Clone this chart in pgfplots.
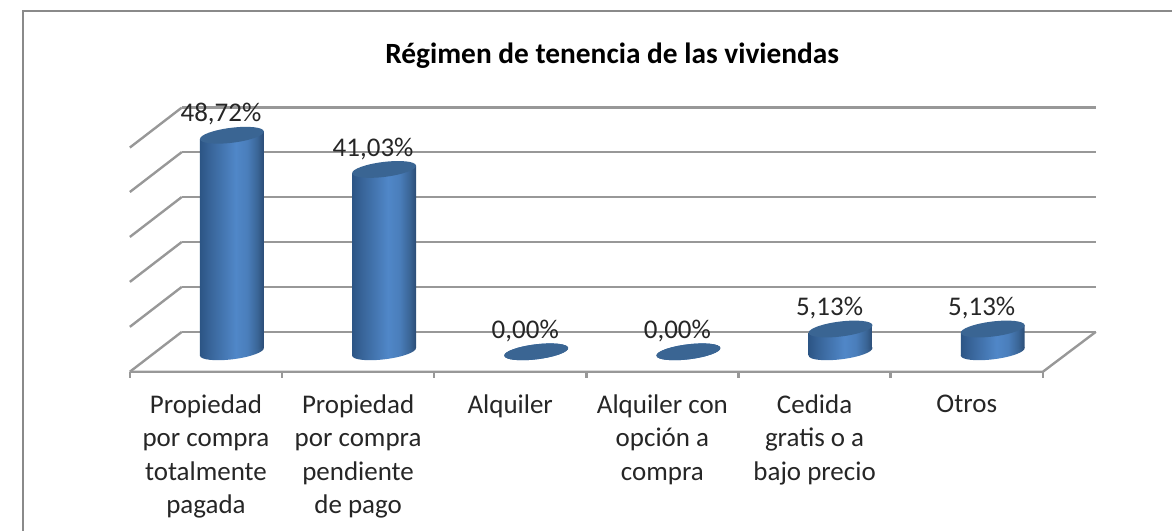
\documentclass[border=0pt]{standalone}
\usepackage{pgfplots}
\pgfplotsset{compat=1.18}
\usepackage{fontspec}
\setmainfont{Carlito}
\definecolor{gridc}{HTML}{989898}
\definecolor{framec}{HTML}{8A8A8A}
\definecolor{topc}{HTML}{3A6593}
\definecolor{txt}{HTML}{262626}
\definecolor{cE}{HTML}{2C5585}
\definecolor{cF}{HTML}{376397}
\definecolor{cM}{HTML}{5087C8}
\definecolor{cN}{HTML}{4A7EBB}
\definecolor{cQ}{HTML}{3A6596}
\definecolor{cR}{HTML}{2B4C75}
\pgfdeclarehorizontalshading{cylshade}{100bp}{
  color(0bp)=(cE);
  color(25bp)=(cE);
  color(32bp)=(cF);
  color(53bp)=(cM);
  color(62bp)=(cN);
  color(70bp)=(cQ);
  color(75bp)=(cR);
  color(100bp)=(cR)
}
% one cylinder, drawn at its data point; its height follows the value
\pgfdeclareplotmark{cyl}{%
  \begingroup
  \pgfmathsetmacro\hh{\val*4.45}%
  \begin{scope}[x=0.5pt,y=0.5pt]
    \shade[shading=cylshade, draw=none]
      (26,-\hh) ellipse [x radius=32.2, y radius=7.5, rotate=7];
    \shade[shading=cylshade, draw=none]
      (-6,{-\hh-3.9}) -- (58,{-\hh+3.9}) -- (58,3.9) -- (-6,-3.9) -- cycle;
    \fill[topc, draw=none] (26,0) ellipse [x radius=32.2, y radius=7.5, rotate=7];
  \end{scope}
  \endgroup
}
\begin{document}
\begin{tikzpicture}
\begin{axis}[
  scale only axis,
  width=586.5pt, height=265.5pt,
  xmin=-1.3534, xmax=6.3469,
  ymin=-40.22, ymax=79.10,
  clip=false,
  axis line style={draw=none},
  major tick length=0pt,
  ytick=\empty,
  xtick={0,1,2,3,4,5},
  xticklabels={
    Propiedad\\por compra\\totalmente\\pagada,
    Propiedad\\por compra\\pendiente\\de pago,
    Alquiler,
    Alquiler con\\opción a\\compra,
    Cedida\\gratis o a\\bajo precio,
    Otros},
  x tick label style={
    font=\fontsize{13.5pt}{16.7pt}\selectfont, text=txt,
    align=center, anchor=north, yshift=68.3pt, inner sep=0pt},
  title={\textbf{Régimen de tenencia de las viviendas}},
  title style={
    at={(rel axis cs:0.5225,1)}, anchor=center, yshift=-34pt,
    font=\fontsize{14.7pt}{17pt}\selectfont, text=black},
  unbounded coords=jump,
]
% frame
\addplot[framec, line width=1.3pt] coordinates {(-1.2025,-40.22) (-1.2025,76.63) (6.3469,76.63)};
% back wall
\addplot[gridc, line width=1.2pt] coordinates {(-0.1586,4.49) (5.848,4.49)};
\addplot[gridc, line width=1.2pt] coordinates {(-0.1586,14.61) (5.848,14.61)};
\addplot[gridc, line width=1.2pt] coordinates {(-0.1586,24.72) (5.848,24.72)};
\addplot[gridc, line width=1.2pt] coordinates {(-0.1586,34.83) (5.848,34.83)};
\addplot[gridc, line width=1.2pt] coordinates {(-0.1586,44.94) (5.848,44.94)};
\addplot[gridc, line width=1.2pt] coordinates {(-0.1586,54.94) (5.848,54.94)};
% side wall
\addplot[gridc, line width=1.2pt] coordinates {(-0.5,-4.49) (-0.1586,4.49)};
\addplot[gridc, line width=1.2pt] coordinates {(-0.5,5.62) (-0.1586,14.61)};
\addplot[gridc, line width=1.2pt] coordinates {(-0.5,15.73) (-0.1586,24.72)};
\addplot[gridc, line width=1.2pt] coordinates {(-0.5,25.84) (-0.1586,34.83)};
\addplot[gridc, line width=1.2pt] coordinates {(-0.5,35.95) (-0.1586,44.94)};
\addplot[gridc, line width=1.2pt] coordinates {(-0.5,45.95) (-0.1586,54.94)};
% floor and ticks
\addplot[gridc, line width=1.2pt] coordinates {(-0.5,-4.49) (5.5,-4.49) (5.848,4.49)};
\addplot[gridc, line width=1.2pt] coordinates {
 (-0.5,-4.49) (-0.5,-5.9) (nan,nan)
 (0.5,-4.49) (0.5,-5.9) (nan,nan)
 (1.5,-4.49) (1.5,-5.9) (nan,nan)
 (2.5,-4.49) (2.5,-5.9) (nan,nan)
 (3.5,-4.49) (3.5,-5.9) (nan,nan)
 (4.5,-4.49) (4.5,-5.9) (nan,nan)
 (5.5,-4.49) (5.5,-5.9)};
% cylinders
\addplot[only marks, scatter, mark=cyl,
  visualization depends on={rawy \as \val},
  scatter/@pre marker code/.code={\pgfscope},
  scatter/@post marker code/.code={\endpgfscope}]
  coordinates {(0,48.72) (1,41.03) (2,0) (3,0) (4,5.13) (5,5.13)};
% labels
\addplot[draw=none, mark=none,
  point meta=explicit symbolic,
  nodes near coords,
  every node near coord/.style={anchor=center, xshift=7.5pt, yshift=10.4pt,
    inner sep=0pt, text=txt, font=\fontsize{13.5pt}{16pt}\selectfont}]
  coordinates {
  (0,48.72) [48,72\%]
  (1,41.03) [41,03\%]
  (2,0) [0,00\%]
  (3,0) [0,00\%]
  (4,5.13) [5,13\%]
  (5,5.13) [5,13\%]};
\end{axis}
\end{tikzpicture}
\end{document}
